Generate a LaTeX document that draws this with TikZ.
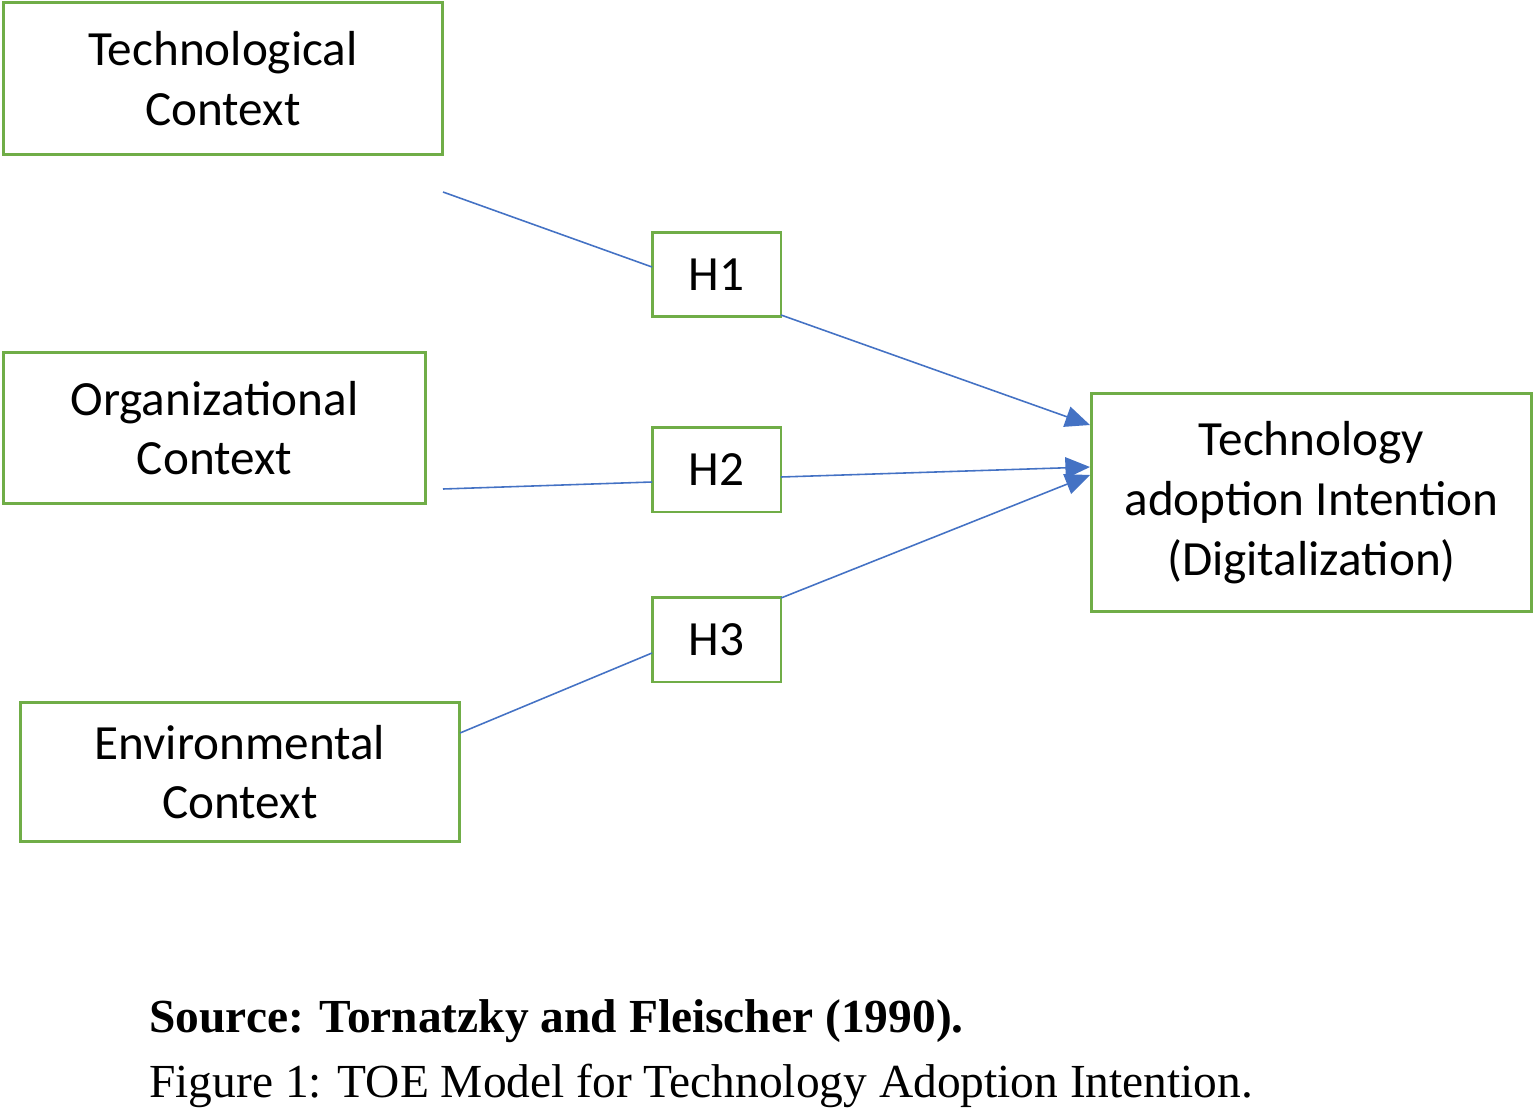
\documentclass[tikz,border=0pt]{standalone}
\usepackage{fontspec}
\setmainfont{Carlito}
\newfontfamily\capfont{Liberation Serif}
\usetikzlibrary{arrows.meta}
\definecolor{gbox}{HTML}{70AD47}
\definecolor{bline}{HTML}{4472C4}
\begin{document}
\begin{tikzpicture}[x=0.02cm,y=-0.02cm,
  box/.style={draw=gbox,line width=1.7pt,align=center,inner sep=0pt,
    font=\fontsize{28}{34}\selectfont},
  con/.style={draw=bline,line width=0.9pt},
  arr/.style={con,-{Triangle[length=14pt,width=12pt]}}]
\useasboundingbox (0,0) rectangle (1535,1108);
\node[box,minimum width=440\pgflinewidth*0+8.8cm,minimum height=3.06cm] (tc) at (223,78.5) {Technological\\Context};
\node[box,minimum width=8.46cm,minimum height=3.04cm] (oc) at (214.5,428) {Organizational\\Context};
\node[box,minimum width=8.8cm,minimum height=2.8cm] (ec) at (240,772) {Environmental\\Context};
\node[box,minimum width=8.82cm,minimum height=4.38cm] (ta) at (1311.5,502.5) {Technology\\adoption Intention\\(Digitalization)};
\node[box,minimum width=2.58cm,minimum height=1.7cm] (h1) at (716.5,274.5) {H1};
\node[box,minimum width=2.58cm,minimum height=1.7cm] (h2) at (716.5,469.5) {H2};
\node[box,minimum width=2.58cm,minimum height=1.7cm] (h3) at (716.5,639.5) {H3};
\coordinate (a1) at (443,192); \coordinate (b1) at (652,267);
\coordinate (c1) at (781,315); \coordinate (d1) at (1090,425);
\coordinate (a2) at (443,489); \coordinate (b2) at (652,482);
\coordinate (c2) at (781,477); \coordinate (d2) at (1090,467);
\coordinate (a3) at (460,733); \coordinate (b3) at (652,653);
\coordinate (c3) at (781,598); \coordinate (d3) at (1090,475);
\draw[con] (a1) -- (b1); \draw[arr] (c1) -- (d1);
\draw[con] (a2) -- (b2); \draw[arr] (c2) -- (d2);
\draw[con] (a3) -- (b3); \draw[arr] (c3) -- (d3);
\node[anchor=base west,inner sep=0pt,font=\capfont\bfseries\fontsize{27}{32}\selectfont] (src) at (149,1032) {Source: Tornatzky and Fleischer (1990).};
\node[anchor=base west,inner sep=0pt,font=\capfont\fontsize{27}{32}\selectfont] (fig) at (149,1097) {Figure 1: TOE Model for Technology Adoption Intention.};
\end{tikzpicture}
\end{document}
